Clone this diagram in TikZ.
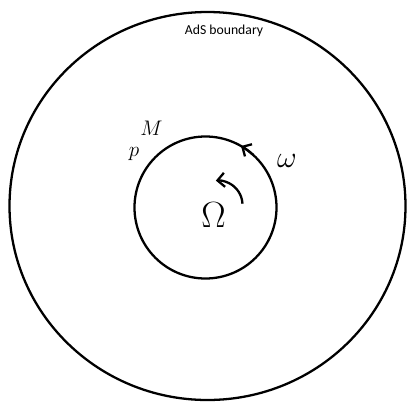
\documentclass[tikz,border=0pt]{standalone}
\usepackage{amsmath, amssymb}
\usepackage{fontspec}
\newfontfamily\bndfont{Carlito}
\usetikzlibrary{arrows.meta}

\begin{document}
\begin{tikzpicture}[
    bnd/.style={draw=black, line width=1.3pt},
    rot/.style={line width=1.3pt, -{Straight Barb[length=4pt, width=8pt]}},
    lbl/.style={inner sep=0pt, font=\fontsize{13}{15}\selectfont}
]
\useasboundingbox (0,0) rectangle (8.14,8.04);
%% outer circle: AdS boundary
\coordinate (Out) at (4.15,3.92);
\draw[bnd] (Out) ellipse[x radius=3.96, y radius=3.88];
\node[inner sep=0pt, font=\bndfont\fontsize{7.8}{9}\selectfont] (ads) at (4.48,7.42) {AdS boundary};
%% inner circle M, rotating with omega
\coordinate (Mid) at (4.11,3.89);
\draw[bnd] (Mid) circle[radius=1.42];
\draw[rot] ([shift={(48:1.42)}]Mid) arc[start angle=48, end angle=60, radius=1.42];
% small rotation arrow inside
\coordinate (Spin) at (4.36,3.94);
\draw[rot] ([shift={(3:0.49)}]Spin) arc[start angle=3, end angle=95, radius=0.49];
% labels
\node[lbl] (M) at (3.03,5.48) {$M$};
\node[lbl] (p) at (2.68,4.95) {$p$};
\node[lbl, font=\fontsize{18}{20}\selectfont] (w) at (5.74,4.82) {$\omega$};
\node[lbl, font=\fontsize{20}{22}\selectfont] (W) at (4.27,3.74) {$\Omega$};
\end{tikzpicture}
\end{document}
